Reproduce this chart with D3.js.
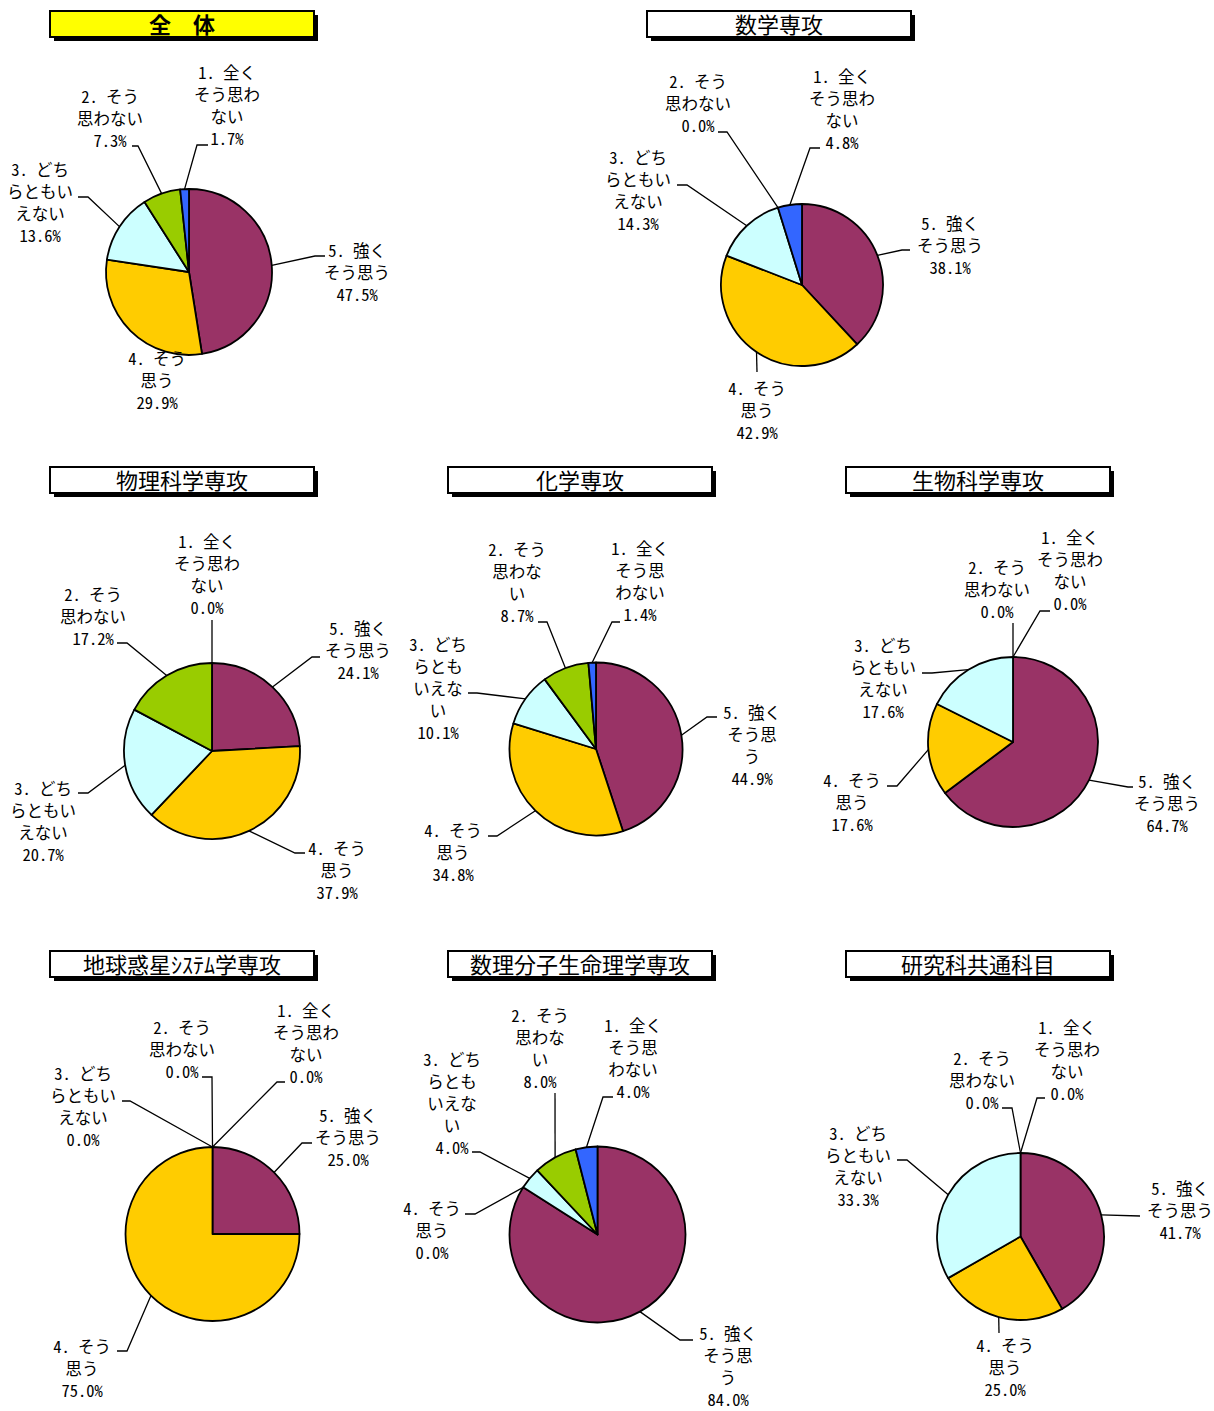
<!DOCTYPE html>
<html>
<head>
<meta charset="utf-8">
<script src="https://cdn.jsdelivr.net/npm/d3@7"></script>
<style>
  body { margin: 0; background: #fff; }
  svg { display: block; }
</style>
</head>
<body>
<svg id="chart" width="1214" height="1411"></svg>
<script>
// answer categories (same for all groups)
const answers = ["1. 全くそう思わない", "2. そう思わない", "3. どちらともいえない", "4. そう思う", "5. 強くそう思う"];
const sliceColors = ["#3366ff", "#99cc00", "#ccffff", "#ffcc00", "#993366"];

const groupNames = ["全　体", "数学専攻", "物理科学専攻", "化学専攻", "生物科学専攻",
  "地球惑星ｼｽﾃﾑ学専攻", "数理分子生命理学専攻", "研究科共通科目"];

// percentages, in the order of answers 1..5
const zentai   = [1.7, 7.3, 13.6, 29.9, 47.5];
const sugaku   = [4.8, 0.0, 14.3, 42.9, 38.1];
const butsuri  = [0.0, 17.2, 20.7, 37.9, 24.1];
const kagaku   = [1.4, 8.7, 10.1, 34.8, 44.9];
const seibutsu = [0.0, 0.0, 17.6, 17.6, 64.7];
const chikyu   = [0.0, 0.0, 0.0, 75.0, 25.0];
const suri     = [4.0, 8.0, 4.0, 0.0, 84.0];
const kyotsu   = [0.0, 0.0, 33.3, 25.0, 41.7];
const groupValues = [zentai, sugaku, butsuri, kagaku, seibutsu, chikyu, suri, kyotsu];

// layout: pie centre/radius, title box, label wrap width and label placement
const layout = [
  { cx: 189, cy: 272, r: 83, bx: 50, by: 11, fill: "#ffff00", bold: true, wrap: 4,
    labels: [ { x: 227, y: 72, lead: [[197,145],[208,145]] },
              { x: 110, y: 96, lead: [[138,146],[132,146]] },
              { x: 40, y: 169, lead: [[88,197],[78,197]] },
              { x: 157, y: 358, lead: [] },
              { x: 357, y: 250, lead: [[315,256],[325,256]] } ] },
  { cx: 802, cy: 285, r: 81, bx: 647, by: 11, wrap: 4,
    labels: [ { x: 842, y: 76, lead: [[810,148],[820,148]] },
              { x: 698, y: 81, lead: [[727,132],[718,132]] },
              { x: 638, y: 157, lead: [[687,185],[677,185]] },
              { x: 757, y: 388, lead: [[757,372]] },
              { x: 950, y: 223, lead: [[902,250],[910,250]] } ] },
  { cx: 212, cy: 751, r: 88, bx: 50, by: 467, wrap: 4,
    labels: [ { x: 207, y: 541, lead: [[212,620]] },
              { x: 93, y: 594, lead: [[127,643],[117,643]] },
              { x: 43, y: 788, lead: [[88,793],[78,793]] },
              { x: 337, y: 848, lead: [[295,853],[305,853]] },
              { x: 358, y: 628, lead: [[312,657],[320,657]] } ] },
  { cx: 596, cy: 749, r: 86.5, bx: 448, by: 467, wrap: 3.5,
    labels: [ { x: 640, y: 548, lead: [[612,622],[620,622]] },
              { x: 517, y: 549, lead: [[547,622],[538,622]] },
              { x: 438, y: 644, lead: [[477,693],[468,693]] },
              { x: 453, y: 830, lead: [[497,836],[488,836]] },
              { x: 752, y: 712, lead: [[707,717],[717,717]] } ] },
  { cx: 1013, cy: 742, r: 85, bx: 846, by: 467, wrap: 4,
    labels: [ { x: 1070, y: 537, lead: [[1040,611],[1050,611]] },
              { x: 997, y: 567, lead: [[1013,623]] },
              { x: 883, y: 645, lead: [[932,673],[922,673]] },
              { x: 852, y: 780, lead: [[897,786],[887,786]] },
              { x: 1167, y: 781, lead: [[1128,787],[1133,787]] } ] },
  { cx: 212.5, cy: 1234, r: 87, bx: 50, by: 951, wrap: 4,
    labels: [ { x: 306, y: 1010, lead: [[277,1082],[285,1082]] },
              { x: 182, y: 1027, lead: [[212,1077],[202,1077]] },
              { x: 83, y: 1073, lead: [[130,1101],[122,1101]] },
              { x: 82, y: 1346, lead: [[127,1351],[117,1351]] },
              { x: 348, y: 1115, lead: [[302,1143],[312,1143]] } ] },
  { cx: 597.5, cy: 1234.5, r: 88, bx: 448, by: 951, wrap: 3.5,
    labels: [ { x: 633, y: 1025, lead: [[603,1097],[613,1097]] },
              { x: 540, y: 1015, lead: [[555,1093]] },
              { x: 452, y: 1059, lead: [[480,1152],[472,1152]] },
              { x: 432, y: 1208, lead: [[475,1214],[465,1214]] },
              { x: 728, y: 1333, lead: [[680,1340],[693,1340]] } ] },
  { cx: 1020.5, cy: 1236.5, r: 83.5, bx: 846, by: 951, wrap: 4,
    labels: [ { x: 1067, y: 1027, lead: [[1037,1098],[1045,1098]] },
              { x: 982, y: 1058, lead: [[1012,1108],[1002,1108]] },
              { x: 858, y: 1133, lead: [[907,1160],[897,1160]] },
              { x: 1005, y: 1345, lead: [[999,1333]] },
              { x: 1180, y: 1188, lead: [[1140,1216]] } ] }
];

const boxW = 264, boxH = 26, lineH = 22;
const fontFam = "'Noto Sans Mono CJK JP', 'Noto Sans CJK JP', sans-serif";

const svg = d3.select("#chart");

// wrap text like excel: half-width chars count 0.5, full-width 1
function wrapLabel(str, maxW) {
  const lines = [];
  let cur = "", w = 0;
  for (const ch of str) {
    const cw = ch.charCodeAt(0) < 256 ? 0.5 : 1;
    if (w + cw > maxW && cur !== "") {
      lines.push(cur);
      cur = ""; w = 0;
    }
    cur += ch; w += cw;
  }
  if (cur) lines.push(cur);
  return lines;
}

const pie = d3.pie().sort(null).value(d => d.value);

groupValues.forEach((vals, gi) => {
  const L = layout[gi];
  const g = svg.append("g");

  // title box with shadow
  g.append("rect")
    .attr("x", L.bx + 4).attr("y", L.by + 4)
    .attr("width", boxW).attr("height", boxH)
    .attr("fill", "#000");
  g.append("rect")
    .attr("x", L.bx).attr("y", L.by)
    .attr("width", boxW).attr("height", boxH)
    .attr("fill", L.fill || "#fff")
    .attr("stroke", "#000").attr("stroke-width", 2);
  g.append("text")
    .attr("x", L.bx + boxW / 2).attr("y", L.by + boxH / 2 - 1)
    .attr("text-anchor", "middle")
    .attr("dominant-baseline", "central")
    .attr("font-family", fontFam)
    .attr("font-size", 22)
    .attr("font-weight", L.bold ? "bold" : "normal")
    .text(groupNames[gi]);

  // slices go clockwise from 12 o'clock: 5, 4, 3, 2, 1
  const rows = vals.map((v, i) => ({ idx: i, value: v })).reverse();
  const arcs = pie(rows);
  const arc = d3.arc().innerRadius(0).outerRadius(L.r);

  const pg = g.append("g").attr("transform", `translate(${L.cx},${L.cy})`);
  pg.selectAll("path")
    .data(arcs.filter(d => d.data.value > 0))
    .join("path")
    .attr("d", arc)
    .attr("fill", d => sliceColors[d.data.idx])
    .attr("stroke", "#000")
    .attr("stroke-width", 1.8)
    .attr("stroke-linejoin", "round");

  arcs.forEach(d => {
    const lab = L.labels[d.data.idx];
    // leader line from slice edge mid-angle
    if (lab.lead.length) {
      const mid = (d.startAngle + d.endAngle) / 2;
      const p0 = [L.cx + L.r * Math.sin(mid), L.cy - L.r * Math.cos(mid)];
      g.append("path")
        .attr("d", d3.line()([p0, ...lab.lead]))
        .attr("fill", "none")
        .attr("stroke", "#000")
        .attr("stroke-width", 1.3);
    }
    const lines = wrapLabel(answers[d.data.idx], L.wrap);
    lines.push(d.data.value.toFixed(1) + "%");
    const t = g.append("text")
      .attr("text-anchor", "middle")
      .attr("font-family", fontFam)
      .attr("font-size", 16.5)
      .attr("fill", "#000");
    lines.forEach((s, li) => {
      t.append("tspan")
        .attr("x", lab.x)
        .attr("y", lab.y + li * lineH)
        .attr("dominant-baseline", "central")
        .text(s);
    });
  });
});
</script>
</body>
</html>
